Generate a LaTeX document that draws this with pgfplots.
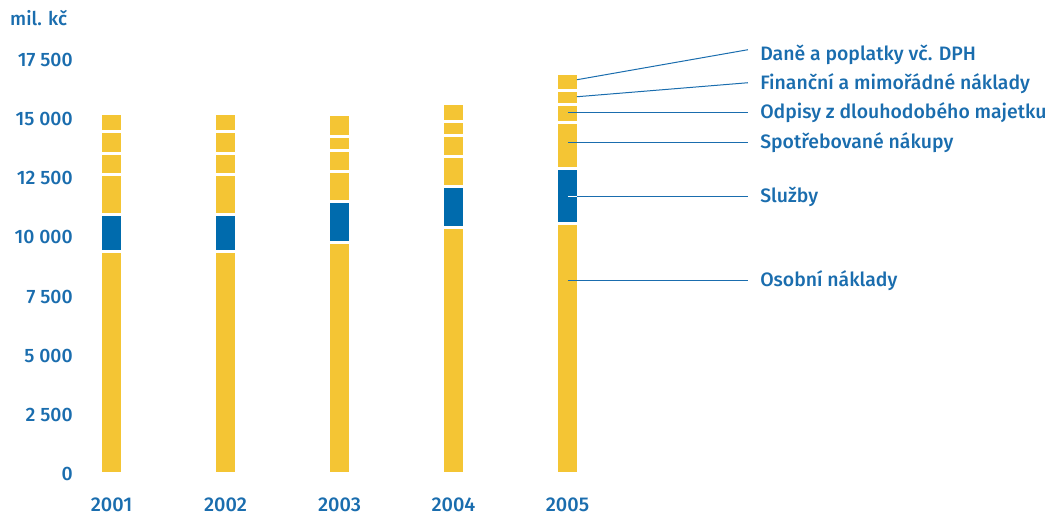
\documentclass[border=0pt]{standalone}
\usepackage{pgfplots}
\pgfplotsset{compat=1.18}
\usepackage{fontspec}
\setmainfont{Fira Sans}[UprightFont={* Medium}]
\definecolor{ybar}{HTML}{F4C534}
\definecolor{bbar}{HTML}{006BAD}
\definecolor{txt}{HTML}{1A6DAE}
\begin{document}
\begin{tikzpicture}
\begin{axis}[
  scale only axis, width=969bp, height=414bp,
  xmin=-0.3, xmax=8.2, ymin=0, ymax=17500,
  ybar stacked, bar width=22.3bp,
  axis line style={draw=none}, major tick length=0,
  xtick={0,1,2,3,4}, xticklabels={2001,2002,2003,2004,2005},
  ytick={0,2500,5000,7500,10000,12500,15000,17500},
  scaled y ticks=false,
  yticklabel style={/pgf/number format/fixed, /pgf/number format/precision=0,
    /pgf/number format/1000 sep={\ }, /pgf/number format/assume math mode=true,
    font=\fontsize{19.5}{22}\selectfont, text=txt, xshift=-1bp},
  xticklabel style={font=\fontsize{20}{23}\selectfont, text=txt, yshift=-20bp},
  clip=false,
]
\addplot[fill=ybar, draw=white, line width=3.3bp] coordinates {(0,9412) (1,9412) (2,9793) (3,10427) (4,10575)};
\addplot[fill=bbar, draw=white, line width=3.3bp] coordinates {(0,1565) (1,1565) (2,1734) (3,1734) (4,2348)};
\addplot[fill=ybar, draw=white, line width=3.3bp] coordinates {(0,1671) (1,1671) (2,1269) (3,1269) (4,1945)};
\addplot[fill=ybar, draw=white, line width=3.3bp] coordinates {(0,909) (1,909) (2,888) (3,889) (4,762)};
\addplot[fill=ybar, draw=white, line width=3.3bp] coordinates {(0,910) (1,910) (2,593) (3,592) (4,571)};
\addplot[fill=ybar, draw=white, line width=3.3bp] coordinates {(0,761) (1,761) (2,909) (3,740) (4,719)};
\coordinate (ll) at (rel axis cs:0,0);
\coordinate (ur) at (rel axis cs:1,1);
\coordinate (a1) at (axis cs:4.083,16666); \coordinate (b1) at (axis cs:5.583,17935);
\coordinate (a2) at (axis cs:4.083,15947); \coordinate (b2) at (axis cs:5.583,16539);
\coordinate (a3) at (axis cs:4.004,15270); \coordinate (b3) at (axis cs:5.583,15270);
\coordinate (a4) at (axis cs:4.004,14001); \coordinate (b4) at (axis cs:5.583,14001);
\coordinate (a5) at (axis cs:4.004,11717); \coordinate (c5) at (axis cs:4.083,11717); \coordinate (b5) at (axis cs:5.583,11717);
\coordinate (a6) at (axis cs:4.004,8164); \coordinate (b6) at (axis cs:5.583,8164);
\node[anchor=west, inner sep=0pt, text=txt, font=\fontsize{19.5}{22}\selectfont] at (axis cs:5.689,17724) {Daně a poplatky vč. DPH};
\node[anchor=west, inner sep=0pt, text=txt, font=\fontsize{19.5}{22}\selectfont] at (axis cs:5.689,16497) {Finanční a mimořádné náklady};
\node[anchor=west, inner sep=0pt, text=txt, font=\fontsize{19.5}{22}\selectfont] at (axis cs:5.689,15270) {Odpisy z dlouhodobého majetku};
\node[anchor=west, inner sep=0pt, text=txt, font=\fontsize{19.5}{22}\selectfont] at (axis cs:5.689,14001) {Spotřebované nákupy};
\node[anchor=west, inner sep=0pt, text=txt, font=\fontsize{19.5}{22}\selectfont] at (axis cs:5.689,11717) {Služby};
\node[anchor=west, inner sep=0pt, text=txt, font=\fontsize{19.5}{22}\selectfont] at (axis cs:5.689,8164) {Osobní náklady};
\node[anchor=west, inner sep=0pt, text=txt, font=\fontsize{19}{22}\selectfont] at (axis cs:-0.89,19290) {mil. kč};
\end{axis}
\draw[txt, line width=1bp] (a1) -- (b1);
\draw[txt, line width=1bp] (a2) -- (b2);
\draw[txt, line width=1bp] (a3) -- (b3);
\draw[txt, line width=1bp] (a4) -- (b4);
\draw[white, line width=1bp] (a5) -- (c5);
\draw[txt, line width=1bp] (c5) -- (b5);
\draw[txt, line width=1bp] (a6) -- (b6);
\path ([xshift=-77.3bp,yshift=-40bp]ll) rectangle ([xshift=4.7bp,yshift=60bp]ur);
\end{tikzpicture}
\end{document}
